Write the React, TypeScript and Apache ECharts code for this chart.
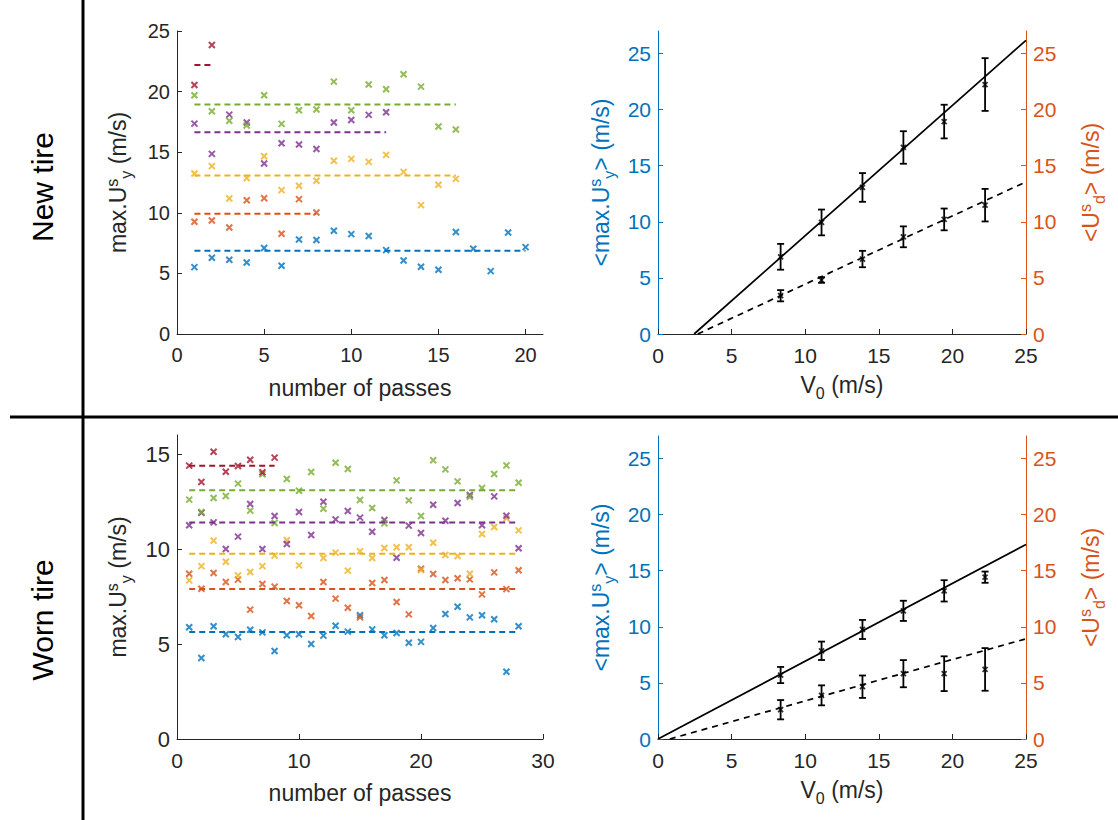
import React, { useEffect, useRef } from 'react';
import * as echarts from 'echarts';

const COLORS = ['#0072BD', '#D95319', '#EDB120', '#7E2F8E', '#77AC30', '#A2142F'];
const FONT = 'Liberation Sans, Arial, sans-serif';
const TXT = '#262626';

// New tire: max.U^s_y per pass (one array per speed)
const newBlue = [5.52, 6.29, 6.13, 5.9, 7.1, 5.63, 7.8, 7.75, 8.52, 8.24, 8.08, 6.92, 6.07, 5.55, 5.3, 8.41, 7.03, 5.19, 8.38, 7.17];
const newOrange = [9.26, 9.37, 8.79, 11.04, 11.2, 8.27, 11.13, 10.03];
const newYellow = [13.24, 13.85, 11.18, 12.86, 14.67, 11.87, 12.23, 12.64, 14.29, 14.45, 14.2, 14.78, 13.38, 10.63, 12.31, 12.8];
const newPurple = [17.36, 14.86, 18.1, 17.45, 14.07, 15.74, 15.63, 15.27, 17.45, 17.66, 18.08, 18.3];
const newGreen = [19.7, 18.38, 17.6, 17.2, 19.7, 17.34, 18.46, 18.52, 20.82, 18.46, 20.58, 20.19, 21.43, 20.41, 17.12, 16.87];
const newRed = [20.55, 23.85];
const newMeans = [6.87, 9.92, 13.08, 16.65, 18.93, 22.2];

// Worn tire
const wornBlue = [5.88, 4.26, 5.93, 5.51, 5.37, 5.75, 5.61, 4.63, 5.46, 5.51, 5.0, 5.44, 5.96, 5.65, 6.51, 5.77, 5.46, 5.58, 5.07, 5.11, 5.84, 6.58, 6.96, 6.4, 6.51, 6.3, 3.54, 5.93];
const wornOrange = [8.7, 7.91, 8.74, 8.26, 8.39, 6.81, 8.16, 8.02, 7.26, 7.04, 6.47, 8.26, 7.39, 6.91, 6.4, 8.21, 8.37, 7.21, 6.56, 8.96, 8.68, 8.37, 8.46, 8.4, 7.61, 8.77, 7.89, 8.88];
const wornYellow = [8.35, 9.1, 10.44, 9.33, 8.61, 8.79, 9.1, 9.65, 10.46, 9.14, null, 9.53, 9.81, 8.86, 9.89, 9.53, 10.05, 10.09, 10.09, 8.89, 10.33, 9.68, 9.63, 8.7, 10.79, 11.16, 11.61, 10.98];
const wornPurple = [11.25, 11.9, 11.4, 10.0, 10.65, 12.37, 10.0, 11.74, 10.26, 11.95, 10.74, 12.49, 11.56, 12.0, 11.65, 10.91, 11.53, 9.54, 11.23, 10.84, 12.33, 11.49, 12.42, 12.84, 11.25, 12.77, 11.75, 10.04];
const wornGreen = [12.6, 11.95, 12.68, 12.79, 13.44, 12.02, 13.93, 11.37, 13.68, 13.07, 14.05, 12.12, 14.54, 14.21, 12.58, 12.16, 11.35, 13.61, 12.56, 11.74, 14.67, 14.19, 13.56, 12.75, 13.21, 13.95, 14.4, 13.49];
const wornRed = [14.39, 13.53, 15.12, 14.07, 14.37, 14.7, 14.04, 14.81];
const wornMeans = [5.63, 7.89, 9.75, 11.39, 13.09, 14.38];

// Right panels
const V0 = [8.33, 11.11, 13.89, 16.67, 19.44, 22.22];
const newMaxU = [6.88, 9.94, 13.06, 16.62, 18.93, 22.23];
const newMaxUErr = [1.15, 1.15, 1.28, 1.45, 1.5, 2.35];
const newUd = [3.41, 4.81, 6.68, 8.66, 10.21, 11.48];
const newUdErr = [0.5, 0.25, 0.73, 0.93, 0.97, 1.45];
const wornMaxU = [5.7, 7.86, 9.76, 11.42, 13.2, 14.42];
const wornMaxUErr = [0.72, 0.82, 0.85, 0.9, 0.95, 0.5];
const wornUd = [2.61, 3.89, 4.66, 5.82, 5.82, 6.2];
const wornUdErr = [0.86, 0.89, 1.0, 1.21, 1.55, 1.9];

const newFitSolid = [[2.45, 0], [25, 26.17]];
const newFitDashed = [[2.7, 0], [25, 13.56]];
const wornFitSolid = [[0, 0], [25, 17.33]];
const wornFitDashed = [[0.8, 0], [25, 8.93]];

const newXTicks = [0, 5, 10, 15, 20];
const newYTicks = [0, 5, 10, 15, 20, 25];
const wornXTicks = [0, 10, 20, 30];
const wornYTicks = [0, 5, 10, 15];
const v0Ticks = [0, 5, 10, 15, 20, 25];
const rightYTicks = [0, 5, 10, 15, 20, 25];

const CROSS = 'path://M0,0L10,10M10,0L0,10';

function rich(size: number, color: string) {
  return {
    a: { fontSize: size, color, fontFamily: FONT, lineHeight: 34, verticalAlign: 'middle' },
    sup: { fontSize: Math.round(size * 0.7), color, fontFamily: FONT, lineHeight: 34, verticalAlign: 'top', padding: [3, 0, 0, 0] },
    sub: { fontSize: Math.round(size * 0.7), color, fontFamily: FONT, lineHeight: 34, verticalAlign: 'bottom', padding: [0, 0, 1, 0] },
  };
}

function xAxisDef(grid: number, max: number, interval: number, ticks: number[], name: string, nameGap: number, fs: number) {
  return {
    type: 'value', gridIndex: grid, min: 0, max, interval,
    name, nameLocation: 'middle', nameGap,
    nameTextStyle: { rich: rich(23, TXT) },
    axisLine: { show: true, onZero: false, lineStyle: { color: TXT, width: 1 } },
    axisTick: { show: true, inside: true, length: 5, customValues: ticks, lineStyle: { color: TXT } },
    axisLabel: { show: true, customValues: ticks, color: TXT, fontSize: fs, fontFamily: FONT, margin: 11 },
    splitLine: { show: false },
  };
}

function yAxisDef(grid: number, max: number, ticks: number[], name: string, nameGap: number, color: string, position: string, fs: number) {
  return {
    type: 'value', gridIndex: grid, min: 0, max, interval: 5, position,
    name, nameLocation: 'middle', nameGap,
    nameTextStyle: { rich: rich(23, color) },
    axisLine: { show: true, onZero: false, lineStyle: { color, width: 1 } },
    axisTick: { show: true, inside: true, length: 5, customValues: ticks, lineStyle: { color } },
    axisLabel: { show: true, customValues: ticks, color, fontSize: fs, fontFamily: FONT, margin: 7 },
    splitLine: { show: false },
  };
}

function passSeries(arrs: (number | null)[][], means: number[], axis: number) {
  const out: any[] = [];
  arrs.forEach((arr, k) => {
    const c = COLORS[k];
    const pts: number[][] = [];
    arr.forEach((v, i) => { if (v !== null) pts.push([i + 1, v]); });
    out.push({
      type: 'line', xAxisIndex: axis, yAxisIndex: axis, symbol: 'none', silent: true,
      lineStyle: { color: c, width: 2, type: [6, 4] },
      data: [[1, means[k]], [arr.length, means[k]]],
    });
    out.push({
      type: 'scatter', xAxisIndex: axis, yAxisIndex: axis, symbol: CROSS, symbolSize: 6,
      itemStyle: { color: c, borderColor: c, borderWidth: 2 },
      data: pts,
    });
  });
  return out;
}

function errSeries(xs: number[], ys: number[], es: number[], xi: number, yi: number) {
  return [
    {
      type: 'custom', xAxisIndex: xi, yAxisIndex: yi, silent: true,
      encode: { x: 0, y: 1 },
      data: xs.map((x, i) => [x, ys[i], es[i]]),
      renderItem: (params: any, api: any) => {
        const x = api.value(0), y = api.value(1), e = api.value(2);
        const t = api.coord([x, y + e]);
        const b = api.coord([x, y - e]);
        const w = 3.5;
        const st = { stroke: '#000', lineWidth: 1.8 };
        return {
          type: 'group',
          children: [
            { type: 'line', shape: { x1: t[0], y1: t[1], x2: b[0], y2: b[1] }, style: st },
            { type: 'line', shape: { x1: t[0] - w, y1: t[1], x2: t[0] + w, y2: t[1] }, style: st },
            { type: 'line', shape: { x1: b[0] - w, y1: b[1], x2: b[0] + w, y2: b[1] }, style: st },
          ],
        };
      },
    },
    {
      type: 'scatter', xAxisIndex: xi, yAxisIndex: yi, symbol: CROSS, symbolSize: 5,
      itemStyle: { color: '#000', borderColor: '#000', borderWidth: 1.8 },
      data: xs.map((x, i) => [x, ys[i]]),
    },
  ];
}

function fitSeries(pts: number[][], xi: number, yi: number, dashed: boolean) {
  return {
    type: 'line', xAxisIndex: xi, yAxisIndex: yi, symbol: 'none', silent: true,
    lineStyle: { color: '#000', width: 1.7, type: dashed ? [6, 5] : 'solid' },
    data: pts,
  };
}

const yNameLeft = '{a|max.U}{sup|s}{sub|y}{a| (m/s)}';
const yNameMean = '{a|<max.U}{sup|s}{sub|y}{a|> (m/s)}';
const yNameUd = '{a|<U}{sup|s}{sub|d}{a|> (m/s)}';
const xNamePass = '{a|number of passes}';
const xNameV0 = '{a|V}{sub|0}{a| (m/s)}';

export default function App() {
  const ref = useRef<HTMLDivElement>(null);
  useEffect(() => {
    if (!ref.current) return;
    const chart = echarts.init(ref.current, undefined, { renderer: 'svg' });
    const option: any = {
      animation: false,
      backgroundColor: '#fff',
      textStyle: { fontFamily: FONT },
      grid: [
        { left: 177, top: 31, width: 366, height: 303 },
        { left: 177, top: 435, width: 366, height: 304 },
        { left: 658, top: 31, width: 368, height: 303 },
        { left: 658, top: 436, width: 368, height: 303 },
      ],
      xAxis: [
        xAxisDef(0, 21, 5, newXTicks, xNamePass, 37, 20),
        xAxisDef(1, 30, 10, wornXTicks, xNamePass, 37, 21),
        xAxisDef(2, 25, 5, v0Ticks, xNameV0, 34, 21),
        xAxisDef(3, 25, 5, v0Ticks, xNameV0, 34, 21),
      ],
      yAxis: [
        yAxisDef(0, 25, newYTicks, yNameLeft, 42, TXT, 'left', 20),
        yAxisDef(1, 16, wornYTicks, yNameLeft, 42, TXT, 'left', 22),
        yAxisDef(2, 27, rightYTicks, yNameMean, 40, '#0072BD', 'left', 21),
        yAxisDef(2, 27, rightYTicks, yNameUd, 48, '#D95319', 'right', 21),
        yAxisDef(3, 27, rightYTicks, yNameMean, 40, '#0072BD', 'left', 21),
        yAxisDef(3, 27, rightYTicks, yNameUd, 48, '#D95319', 'right', 21),
      ],
      series: [
        ...passSeries([newBlue, newOrange, newYellow, newPurple, newGreen, newRed], newMeans, 0),
        ...passSeries([wornBlue, wornOrange, wornYellow, wornPurple, wornGreen, wornRed], wornMeans, 1),
        fitSeries(newFitSolid, 2, 2, false),
        fitSeries(newFitDashed, 2, 3, true),
        ...errSeries(V0, newMaxU, newMaxUErr, 2, 2),
        ...errSeries(V0, newUd, newUdErr, 2, 3),
        fitSeries(wornFitSolid, 3, 4, false),
        fitSeries(wornFitDashed, 3, 5, true),
        ...errSeries(V0, wornMaxU, wornMaxUErr, 3, 4),
        ...errSeries(V0, wornUd, wornUdErr, 3, 5),
      ],
      graphic: [
        { type: 'line', shape: { x1: 83, y1: 0, x2: 83, y2: 820 }, style: { stroke: '#000', lineWidth: 3 } },
        { type: 'line', shape: { x1: 10, y1: 417, x2: 1118, y2: 417 }, style: { stroke: '#000', lineWidth: 3 } },
        {
          type: 'text', x: 42, y: 187, rotation: Math.PI / 2,
          style: { text: 'New tire', fontSize: 30, fontFamily: FONT, fill: '#000', textAlign: 'center', textVerticalAlign: 'middle' },
        },
        {
          type: 'text', x: 42, y: 620, rotation: Math.PI / 2,
          style: { text: 'Worn tire', fontSize: 30, fontFamily: FONT, fill: '#000', textAlign: 'center', textVerticalAlign: 'middle' },
        },
      ],
    };
    chart.setOption(option);
    return () => chart.dispose();
  }, []);
  return (
    <div
      ref={ref}
      style={{ position: 'fixed', left: 0, top: 0, width: 1118, height: 820, background: '#fff' }}
    />
  );
}
